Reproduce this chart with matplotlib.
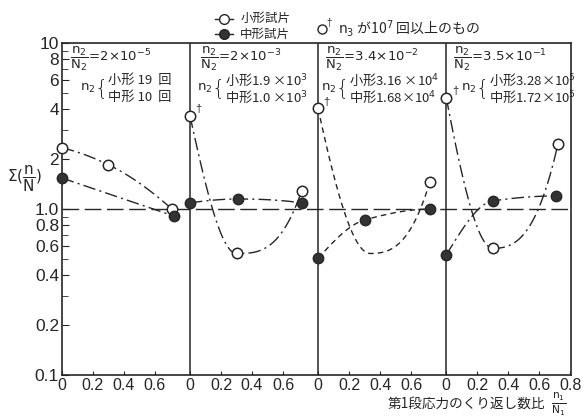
import numpy as np
import matplotlib
matplotlib.use('Agg')
import matplotlib.pyplot as plt

plt.rcParams['font.family'] = ['Liberation Sans', 'Noto Sans CJK JP', 'DejaVu Sans']
plt.rcParams['mathtext.fontset'] = 'dejavusans'

# --- data (x within each panel, y = sum(n/N)) ---
panel_w = 0.826
ratio_small = [[0.0, 0.30, 0.71], [0.0, 0.30, 0.72], [0.0, 0.335, 0.72], [0.0, 0.30, 0.72]]
sum_small = [[2.34, 1.85, 1.0], [3.66, 0.54, 1.29], [4.04, 0.54, 1.46], [4.7, 0.58, 2.48]]
small_marked = [[True, True, True], [True, True, True], [True, False, True], [True, True, True]]
ratio_mid = [[0.0, 0.72], [0.0, 0.31, 0.72], [0.0, 0.30, 0.72], [0.0, 0.30, 0.71]]
sum_mid = [[1.54, 0.91], [1.09, 1.15, 1.09], [0.505, 0.86, 1.0], [0.53, 1.12, 1.2]]
over_1e7 = [False, True, True, True]   # first small point has n3 > 10^7

ratio_txt = ['2{\\times}10^{-5}', '2{\\times}10^{-3}', '3.4{\\times}10^{-2}', '3.5{\\times}10^{-1}']
n2_small = ['小形 19  回', '小形1.9 ×10$^3$', '小形3.16 ×10$^4$', '小形3.28×10$^5$']
n2_mid = ['中形 10  回', '中形1.0 ×10$^3$', '中形1.68×10$^4$', '中形1.72×10$^5$']
styles = ['dashdot', 'dashdot', 'dashed', 'dashdot']
# text anchor offsets inside each panel (fraction, n2 label)
frac_dx = [0.05, 0.065, 0.045, 0.045]
n2_dx = [0.12, 0.045, 0.02, 0.095]

yticks = [0.1, 0.2, 0.4, 0.6, 0.8, 1.0, 2, 4, 6, 8, 10]
ylabels = ['0.1', '0.2', '0.4', '0.6', '0.8', '1.0', '2', '4', '6', '8', '10']
yminor = [0.3, 0.5, 0.7, 0.9, 3, 5, 7, 9]

ink = '#262626'
cjk = ['Noto Sans CJK JP', 'DejaVu Sans']
dash = {'dashdot': (0, (9, 3, 1.5, 3)), 'dashed': (0, (4, 3))}


def smooth(x, y, n=80):
    # monotone cubic through the points, in log space
    x = np.asarray(x, float)
    ly = np.log10(y)
    xs = np.linspace(x[0], x[-1], n)
    if len(x) < 3:
        return xs, 10 ** np.interp(xs, x, ly)
    h = np.diff(x)
    d = np.diff(ly) / h
    m = np.zeros(len(x))
    for i in range(1, len(x) - 1):
        m[i] = 0 if d[i - 1] * d[i] <= 0 else 2 / (1 / d[i - 1] + 1 / d[i])
    m[0] = ((2 * h[0] + h[1]) * d[0] - h[0] * d[1]) / (h[0] + h[1])
    m[-1] = ((2 * h[-1] + h[-2]) * d[-1] - h[-1] * d[-2]) / (h[-1] + h[-2])
    for k in (0, -1):
        if np.sign(m[k]) != np.sign(d[k]):
            m[k] = 0
        elif abs(m[k]) > 3 * abs(d[k]):
            m[k] = 3 * d[k]
    idx = np.clip(np.searchsorted(x, xs) - 1, 0, len(x) - 2)
    t = (xs - x[idx]) / h[idx]
    h00 = 2 * t**3 - 3 * t**2 + 1
    h10 = t**3 - 2 * t**2 + t
    h01 = -2 * t**3 + 3 * t**2
    h11 = t**3 - t**2
    ys = h00 * ly[idx] + h10 * h[idx] * m[idx] + h01 * ly[idx + 1] + h11 * h[idx] * m[idx + 1]
    return xs, 10 ** ys


fig = plt.figure(figsize=(5.83, 4.19), dpi=100)
ax = fig.add_axes([0.106, 0.105, 0.874, 0.792])
ax.set_yscale('log')
ax.set_ylim(0.1, 10)
ax.set_xlim(0, 3.284)

ax.axhline(1.0, color=ink, lw=1.0, linestyle=(0, (12, 4)), zorder=1)

for i in range(4):
    off = i * panel_w
    if i > 0:
        ax.axvline(off, color=ink, lw=1.1, zorder=1)
    ls = dash[styles[i]]
    xs, ys = smooth(ratio_small[i], sum_small[i])
    ax.plot(xs + off, ys, color=ink, lw=1.0, linestyle=ls, zorder=2)
    xs, ys = smooth(ratio_mid[i], sum_mid[i])
    ax.plot(xs + off, ys, color=ink, lw=1.0, linestyle=ls, zorder=2)
    xm = [x + off for x, k in zip(ratio_small[i], small_marked[i]) if k]
    ym = [y for y, k in zip(sum_small[i], small_marked[i]) if k]
    ax.plot(xm, ym, 'o', ms=7.5, mfc='white', mec=ink, mew=1.1, zorder=4, clip_on=False)
    ax.plot(np.array(ratio_mid[i]) + off, sum_mid[i], 'o', ms=7.5, mfc='#333333', mec=ink,
            mew=1.0, zorder=4, clip_on=False)
    if over_1e7[i]:
        ax.annotate('†', (off, sum_small[i][0]), xytext=(4, 1), textcoords='offset points',
                    fontsize=8, color=ink, va='bottom')

    # panel annotations
    ax.text(off + frac_dx[i], 8.1,
            r'$\dfrac{\mathrm{n_2}}{\mathrm{N_2}}\!=\!\mathrm{' + ratio_txt[i] + '}$',
            fontsize=9.5, color=ink, ha='left', va='center')
    bx = off + n2_dx[i]
    ax.text(bx, 5.35, r'$\mathrm{n_2}$', fontsize=9.5, color=ink, ha='left', va='center')
    ax.text(bx + 0.092, 5.35, '{', fontsize=15, color=ink, ha='left', va='center',
            family='DejaVu Sans', fontweight='light')
    ax.text(bx + 0.178, 5.98, n2_small[i], fontsize=9.5, color=ink, ha='left', va='center',
            family=cjk)
    ax.text(bx + 0.178, 4.72, n2_mid[i], fontsize=9.5, color=ink, ha='left', va='center',
            family=cjk)

# axes cosmetics
ax.set_yticks(yticks)
ax.set_yticklabels(ylabels)
ax.set_yticks(yminor, minor=True)
ax.yaxis.set_minor_formatter(plt.NullFormatter())
xt, xl = [], []
for i in range(4):
    vals = [0, 0.2, 0.4, 0.6] + ([0.8] if i == 3 else [])
    for v in vals:
        xt.append(i * panel_w + v)
        xl.append('0' if v == 0 else f'{v:.1f}')
ax.set_xticks(xt)
ax.set_xticklabels(xl)
ax.tick_params(axis='both', which='both', direction='in', color=ink, labelcolor=ink)
ax.tick_params(axis='y', which='major', length=5, labelsize=12.5, pad=2)
ax.tick_params(axis='y', which='minor', length=4)
ax.tick_params(axis='x', length=3, labelsize=11.5, pad=2)
for s in ax.spines.values():
    s.set_color(ink)
    s.set_linewidth(1.2)

fig.text(0.012, 0.572, r'$\Sigma(\dfrac{\mathrm{n}}{\mathrm{N}})$', fontsize=11, color=ink,
         ha='left', va='center')
fig.text(0.665, 0.036, '第1段応力のくり返し数比', fontsize=9.8, color=ink, ha='left', va='center',
         family=cjk)
fig.text(0.945, 0.036, r'$\frac{\mathrm{n_1}}{\mathrm{N_1}}$', fontsize=11, color=ink,
         ha='left', va='center')

# legend at top
for yy, fc, lab in ((0.955, 'white', '小形試片'), (0.918, '#333333', '中形試片')):
    fig.add_artist(plt.Line2D([0.368, 0.400], [yy, yy], color=ink, lw=1.0))
    fig.add_artist(plt.Line2D([0.384], [yy], color=ink, marker='o', ms=7, mfc=fc, mec=ink))
    fig.text(0.412, yy, lab, fontsize=9, color=ink, ha='left', va='center', family=cjk)
fig.add_artist(plt.Line2D([0.552], [0.93], color=ink, marker='o', ms=6.5, mfc='white', mec=ink))
fig.text(0.560, 0.932, '†', fontsize=7, color=ink, ha='left', va='bottom')
fig.text(0.580, 0.932, '$\\mathrm{n_3}$ が10$^7$ 回以上のもの', fontsize=10, color=ink, ha='left',
         va='center', family=cjk)

fig.savefig('out.png', dpi=100, facecolor='white')
